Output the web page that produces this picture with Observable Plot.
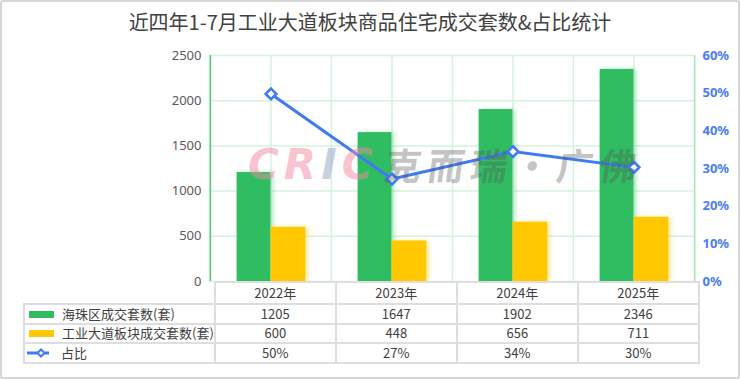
<!DOCTYPE html>
<html><head><meta charset="utf-8">
<script src="https://cdn.jsdelivr.net/npm/d3@7"></script>
<script src="https://cdn.jsdelivr.net/npm/@observablehq/plot@0.6"></script>
<style>
body{margin:0;background:#fff;}
#wrap{position:relative;width:740px;height:379px;overflow:hidden;background:#fff;font-family:"Noto Sans CJK SC","Noto Sans",sans-serif;}
#title{height:40px;line-height:44px;text-align:center;font-size:20px;color:#404040;}
#chart svg{display:block;}
#border{position:absolute;left:0;top:0;width:740px;height:379px;box-sizing:border-box;border:2px solid #d6d6d6;border-radius:3px;pointer-events:none;}
#tbl{position:absolute;border-collapse:collapse;table-layout:fixed;font-size:13px;color:#404040;}
#tbl td{border:2px solid #dedede;padding:0;text-align:center;white-space:nowrap;overflow:hidden;line-height:16px;}
#tbl td.blank{border-left:none;border-top:none;}
#tbl td.lg{text-align:left;}
.sw{display:inline-block;width:25px;height:7px;margin:0 8px 0 4px;vertical-align:middle;position:relative;top:-1px;}
#wm{position:absolute;left:0;top:0;pointer-events:none;}
</style></head>
<body>
<div id="wrap">
  <div id="title">近四年1-7月工业大道板块商品住宅成交套数&amp;占比统计</div>
  <div id="chart"></div>
  <table id="tbl"></table>
  <svg id="wm" width="740" height="379">
    <text x="248" y="179" font-family="DejaVu Sans" font-weight="bold" font-style="italic" font-size="42" letter-spacing="5" fill="#f08aa0" fill-opacity="0.5">CR<tspan fill="#8ea3c4">I</tspan>C</text>
    <text x="383" y="180" font-family="Noto Sans CJK SC" font-weight="bold" font-size="37" letter-spacing="6" fill="#555" fill-opacity="0.36" transform="skewX(-8) translate(25,0)">克而瑞·广佛</text>
  </svg>
  <div id="border"></div>
</div>
<script>
const years = ["2022年", "2023年", "2024年", "2025年"];
const haizhu = [1205, 1647, 1902, 2346];
const gongye = [600, 448, 656, 711];
const share = [49.8, 27.2, 34.5, 30.3];
const shareLabels = ["50%", "27%", "34%", "30%"];
const leftTicks = [0, 500, 1000, 1500, 2000, 2500];
const rightTicks = [0, 10, 20, 30, 40, 50, 60];
const seriesNames = ["海珠区成交套数(套)", "工业大道板块成交套数(套)", "占比"];

const GREEN = "#30bd62", YELLOW = "#ffc800", BLUE = "#3f7af3";
const GRID = "#d3f3de";
const W = 740, H = 339, mL = 209, mR = 46, mT = 15, mB = 98;
const bw = (W - mL - mR) / years.length;
const yMax = 2500, pMax = 60;
const toY = p => p * yMax / pMax;

const rows = years.map((year, i) => ({year, haizhu: haizhu[i], gongye: gongye[i], share: share[i]}));

const chart = Plot.plot({
  width: W, height: H,
  marginLeft: mL, marginRight: mR, marginTop: mT, marginBottom: mB,
  style: {fontFamily: '"Noto Sans", "Noto Sans CJK SC", sans-serif', fontSize: "13px", background: "transparent"},
  x: {domain: years, padding: 0, axis: null},
  y: {domain: [0, yMax], axis: null},
  marks: [
    Plot.gridY({ticks: leftTicks, stroke: GRID, strokeOpacity: 1, strokeWidth: 1.5}),
    Plot.ruleX(years, {stroke: GRID, strokeWidth: 1.5}),
    Plot.ruleX(years, {dx: -bw / 2, stroke: GRID, strokeWidth: 1.5}),
    Plot.ruleX([years[0]], {dx: -bw / 2, stroke: "#4cc776", strokeWidth: 1.5}),
    Plot.ruleX([years[years.length - 1]], {dx: bw / 2, stroke: "#9fe2b4", strokeWidth: 1.5}),
    Plot.barY(rows, {x: "year", y: "haizhu", fill: GREEN, insetLeft: bw / 2 - 34, insetRight: bw / 2}),
    Plot.barY(rows, {x: "year", y: "gongye", fill: YELLOW, insetLeft: bw / 2, insetRight: bw / 2 - 35}),
    Plot.line(rows, {x: "year", y: d => toY(d.share), stroke: BLUE, strokeWidth: 3}),
    Plot.dot(rows, {x: "year", y: d => toY(d.share), symbol: "diamond2", r: 4.8, fill: "white", stroke: BLUE, strokeWidth: 2.6}),
    Plot.axisY({anchor: "left", ticks: leftTicks, tickFormat: d => String(d), tickSize: 0, tickPadding: 8, fontSize: 13, color: "#595959", label: null}),
    Plot.axisY({anchor: "right", ticks: rightTicks.map(toY), tickFormat: d => Math.round(d * pMax / yMax) + "%", tickSize: 0, tickPadding: 8, fontSize: 13, fontWeight: "bold", color: "#4a7cf5", label: null})
  ]
});
document.getElementById("chart").appendChild(chart);

// soft glow on bar right edges
const barGroups = chart.querySelectorAll('g[aria-label="bar"]');
if (barGroups[0]) barGroups[0].style.filter = "drop-shadow(3px 0 2px rgba(48,189,98,0.35))";
if (barGroups[1]) barGroups[1].style.filter = "drop-shadow(3px 0 2px rgba(255,200,0,0.35))";

// data table aligned to the x scale
const xs = chart.scale("x");
const plotLeft = xs.range[0];
const tblLeft = 24;
const tbl = document.getElementById("tbl");
tbl.style.left = (tblLeft - 1) + "px";
tbl.style.top = (40 + (H - mB)) + "px";
let html = '<colgroup><col style="width:' + (plotLeft - tblLeft) + 'px">' + years.map(() => '<col style="width:' + xs.bandwidth + 'px">').join("") + '</colgroup>';
html += '<tr style="height:22px"><td class="blank"></td>' + years.map(y => '<td>' + y + '</td>').join("") + '</tr>';
const swatches = [
  '<span class="sw" style="background:' + GREEN + '"></span>',
  '<span class="sw" style="background:' + YELLOW + '"></span>',
  '<svg width="23" height="10" style="vertical-align:middle;margin:0 11px 0 2px;position:relative;top:-1px"><line x1="0" x2="22" y1="5" y2="5" stroke="' + BLUE + '" stroke-width="3"/><path d="M14,1.5L17.5,5L14,8.5L10.5,5Z" fill="white" stroke="' + BLUE + '" stroke-width="2"/></svg>'
];
const rowVals = [haizhu.map(String), gongye.map(String), shareLabels];
rowVals.forEach((vals, k) => {
  html += '<tr style="height:19.5px"><td class="lg">' + swatches[k] + seriesNames[k] + '</td>' + vals.map(v => '<td>' + v + '</td>').join("") + '</tr>';
});
tbl.innerHTML = html;
</script>
</body></html>
